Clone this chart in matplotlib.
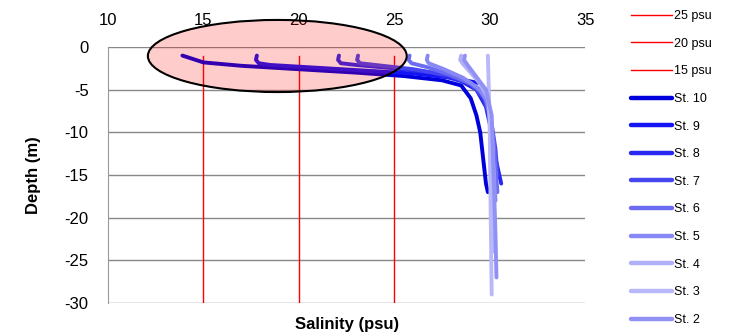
import matplotlib.pyplot as plt
from matplotlib.patches import Ellipse

plt.rcParams['font.family'] = ['Liberation Sans', 'DejaVu Sans']
plt.rcParams['axes.unicode_minus'] = False

# reference salinity lines
psu_levels = [25, 20, 15]
psu_top = -1
psu_bottom = -30

# station profiles (salinity, depth)
stations = ['St. 10', 'St. 9', 'St. 8', 'St. 7', 'St. 6', 'St. 5', 'St. 4', 'St. 3', 'St. 2']
sal = {
    'St. 10': [13.9, 15.0, 17.0, 20.0, 23.0, 25.5, 27.5, 28.5, 29.0, 29.3, 29.5, 29.6, 29.7, 29.8, 29.9],
    'St. 9': [17.8, 17.75, 17.9, 18.5, 20.0, 23.0, 26.0, 28.0, 29.4],
    'St. 8': [22.1, 22.05, 22.2, 23.0, 25.0, 27.0, 28.5, 29.3, 29.8, 30.1, 30.3, 30.6],
    'St. 7': [23.1, 23.05, 23.2, 24.0, 26.0, 27.8, 29.0, 29.7, 30.1, 30.3, 30.4],
    'St. 6': [25.8, 25.75, 25.9, 26.8, 28.0, 29.0, 29.7, 30.0, 30.2, 30.3, 30.4],
    'St. 5': [26.75, 26.7, 26.8, 27.6, 28.6, 29.4, 29.9, 30.1, 30.2, 30.3],
    'St. 4': [28.5, 28.45, 28.6, 29.0, 29.5, 29.9, 30.1, 30.2, 30.2, 30.25],
    'St. 3': [29.9, 29.95, 30.0, 30.05, 30.1],
    'St. 2': [28.7, 28.65, 28.8, 29.3, 29.8, 30.1, 30.2, 30.3, 30.35],
}
depth = {
    'St. 10': [-1, -1.8, -2.2, -2.6, -3.0, -3.4, -3.9, -4.5, -6, -8, -10, -12, -14, -16, -17],
    'St. 9': [-1, -1.5, -1.9, -2.1, -2.3, -2.7, -3.1, -3.6, -4.2],
    'St. 8': [-1, -1.5, -1.9, -2.1, -2.5, -3.0, -4.0, -5.0, -7, -10, -13, -16],
    'St. 7': [-1, -1.5, -1.9, -2.1, -2.6, -3.3, -4.3, -6, -9, -12, -15],
    'St. 6': [-1, -1.5, -1.9, -2.4, -3.3, -4.3, -5.5, -8, -11, -14, -17],
    'St. 5': [-1, -1.5, -1.9, -2.6, -3.6, -4.8, -6.5, -10, -14, -18],
    'St. 4': [-1, -1.5, -2, -3, -4.3, -6, -10, -15, -20, -24],
    'St. 3': [-1, -5, -10, -20, -29],
    'St. 2': [-1, -1.5, -2, -3.5, -5, -8, -15, -22, -27],
}
colors = {
    'St. 10': '#0000dd', 'St. 9': '#1414f5', 'St. 8': '#2828f0',
    'St. 7': '#4646f0', 'St. 6': '#6c6cf2', 'St. 5': '#8888f5',
    'St. 4': '#b0b0f8', 'St. 3': '#b8b8fa', 'St. 2': '#9090f5',
}

fig = plt.figure(figsize=(7.32, 3.36), dpi=100)
ax = fig.add_axes([0.1475, 0.098, 0.652, 0.762])

for lvl in psu_levels:
    ax.plot([lvl, lvl], [psu_top, psu_bottom], color='#ff0000', lw=1.0,
            label='%d psu' % lvl, zorder=2)

for st in stations:
    ax.plot(sal[st], depth[st], color=colors[st], lw=2.8,
            solid_capstyle='round', solid_joinstyle='round', label=st, zorder=3)

ell = Ellipse((18.87, -1.05), 13.56, 8.45, facecolor=(1, 0, 0, 0.2),
              edgecolor='black', lw=1.5, clip_on=False, zorder=4)
ax.add_patch(ell)

ax.set_xlim(10, 35)
ax.set_ylim(-30, 0)
ax.set_xticks([10, 15, 20, 25, 30, 35])
ax.set_yticks([0, -5, -10, -15, -20, -25, -30])
ax.xaxis.tick_top()
ax.tick_params(length=0, labelsize=12)
ax.tick_params(axis='x', pad=14)
ax.tick_params(axis='y', pad=14)
ax.grid(axis='y', color='#888888', lw=1)
ax.set_axisbelow(True)
for s in ['top', 'right', 'bottom']:
    ax.spines[s].set_visible(False)
ax.spines['left'].set_color('#999999')

ax.set_xlabel('Salinity (psu)', fontsize=12, fontweight='bold', labelpad=10)
ax.xaxis.set_label_position('bottom')
ax.set_ylabel('Depth (m)', fontsize=12, fontweight='bold', labelpad=17)

handles, labels = ax.get_legend_handles_labels()
leg = fig.legend(handles, labels, loc='upper left', bbox_to_anchor=(0.855, 0.985),
                 frameon=False, fontsize=9, labelspacing=1.25,
                 handlelength=3.3, handletextpad=0.15, borderaxespad=0)
for h in leg.get_lines()[3:]:
    h.set_linewidth(3.2)

fig.savefig('out.png', dpi=100)
